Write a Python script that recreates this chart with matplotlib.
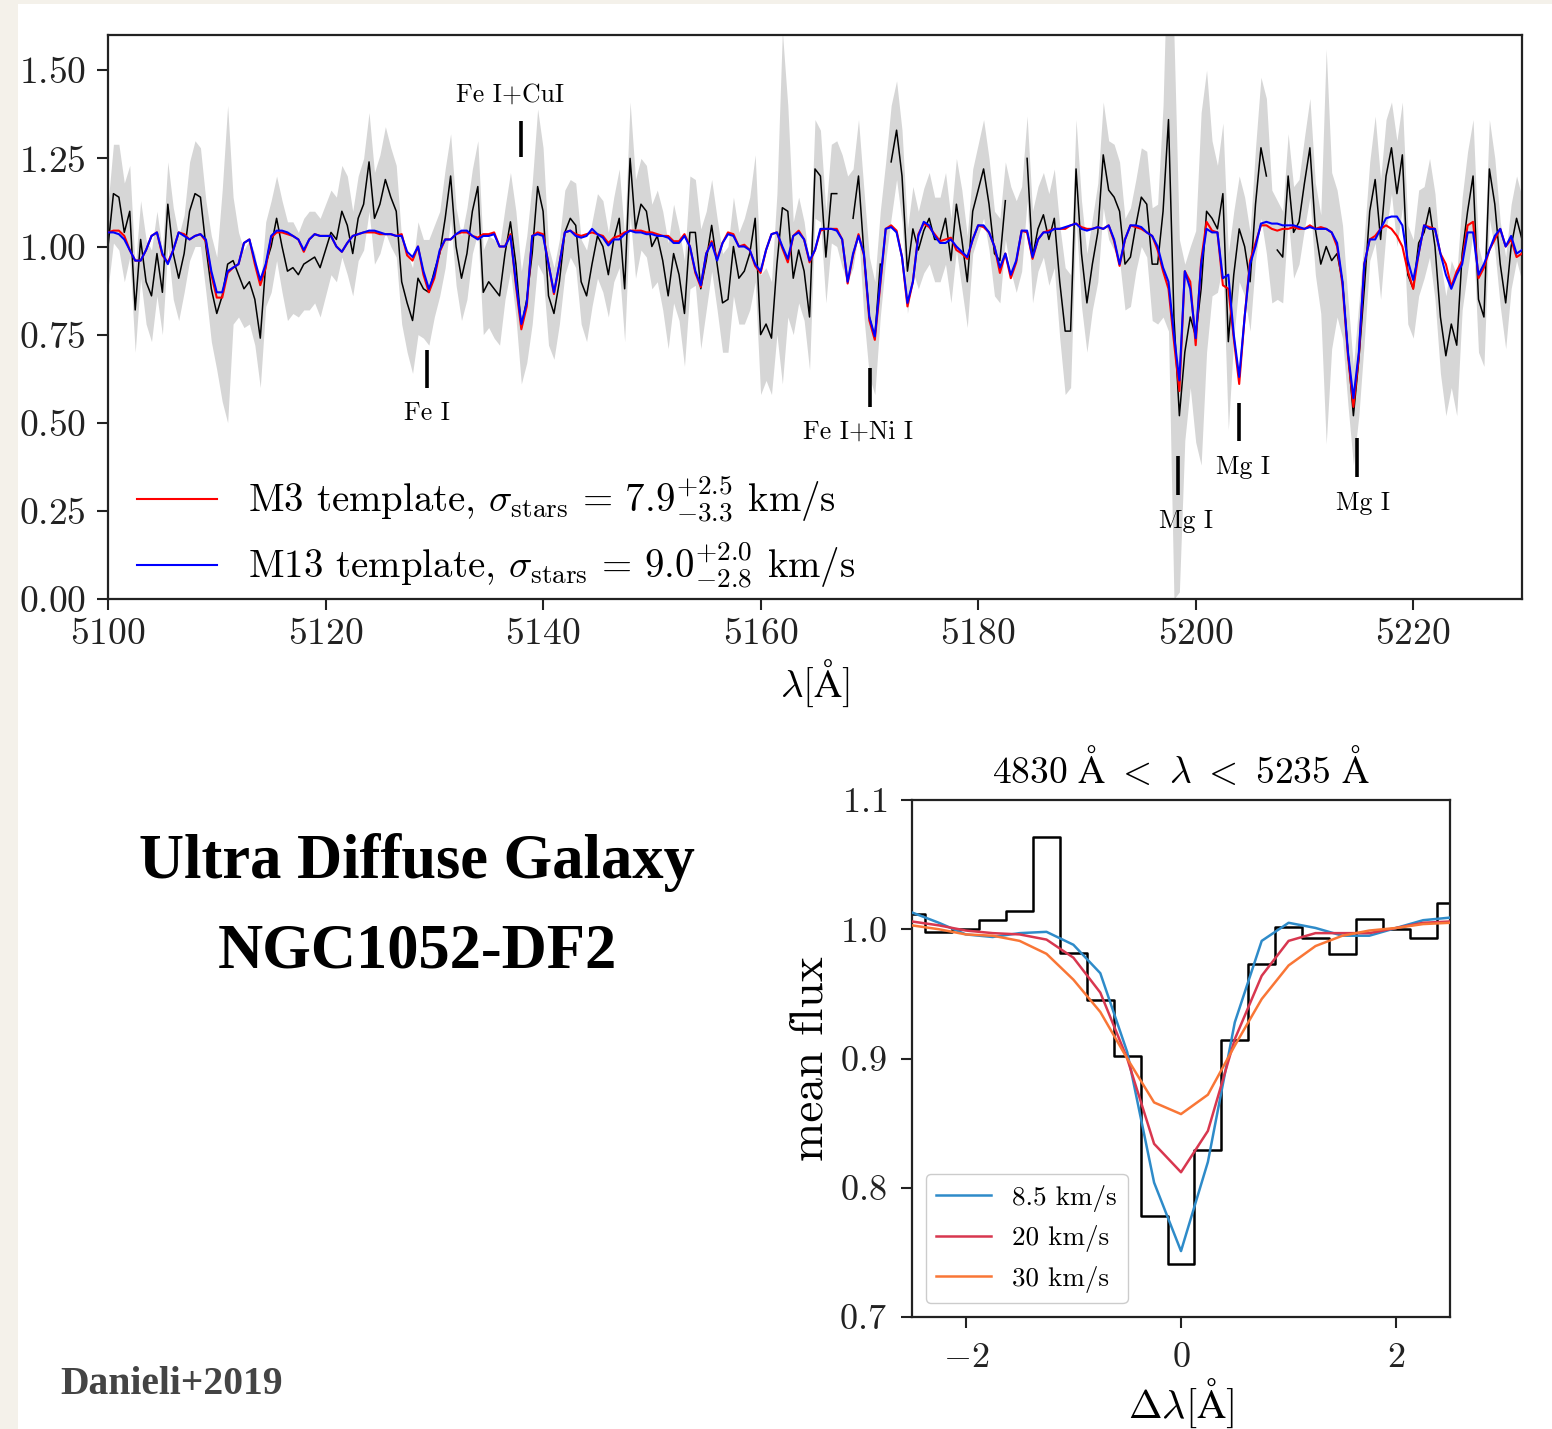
import numpy as np
import matplotlib
matplotlib.use("Agg")
import matplotlib.pyplot as plt
from matplotlib.patches import Rectangle
from matplotlib.ticker import FuncFormatter

plt.rcParams["font.family"] = "serif"
plt.rcParams["font.serif"] = ["cmr10"]
plt.rcParams["mathtext.fontset"] = "cm"
plt.rcParams["axes.unicode_minus"] = False

BEIGE = "#f4f1ea"
GRAYBAND = "#d6d6d6"

# --- stacked spectrum, 0.5 A pixels from 5100 to 5230 A ---
WAVE_START, WAVE_STEP = 5100.0, 0.5

flux = [
    1.00, 1.15, 1.14, 1.04, 1.10, 0.82, 1.02, 0.90, 0.86, 0.98,
    0.87, 1.12, 0.98, 0.91, 0.98, 1.10, 1.15, 1.14, 1.00, 0.88,
    0.81, 0.86, 0.95, 0.96, 0.92, 0.88, 0.90, 0.85, 0.74, 0.95,
    1.00, 1.08, 1.00, 0.93, 0.94, 0.92, 0.95, 0.96, 0.97, 0.94,
    0.99, 1.04, 1.02, 1.10, 1.06, 0.98, 1.08, 1.12, 1.24, 1.08,
    1.12, 1.19, 1.14, 1.10, 0.90, 0.84, 0.79, 0.91, 0.88, 0.87,
    0.93, 0.98, 1.08, 1.20, 1.00, 0.91, 0.98, 1.10, 1.17, 0.87,
    0.90, 0.88, 0.86, 0.98, 1.07, 0.95, 0.77, 0.85, 0.98, 1.17,
    1.10, 0.86, 0.81, 0.90, 1.04, 1.08, 1.06, 0.90, 0.86, 0.95,
    1.03, 1.00, 0.92, 1.02, 1.08, 0.88, 1.25, 1.05, 1.12, 1.10,
    1.00, 1.03, 0.96, 0.86, 0.98, 0.92, 0.81, 1.04, 1.04, 0.88,
    0.96, 1.06, 0.95, 0.84, 0.85, 1.00, 0.91, 0.93, 0.98, 1.08,
    0.75, 0.78, 0.74, 0.95, 1.11, 1.10, 0.91, 0.99, 0.93, 0.80,
    1.22, 1.20, 0.97, 1.15, 1.15, 1.10, 1.05, 1.08, 1.20, 0.98,
    0.80, 0.74, 0.95, 1.10, 1.24, 1.33, 1.20, 0.93, 1.05, 0.99,
    1.045, 1.08, 1.02, 1.02, 1.08, 0.96, 1.12, 1.02, 0.90, 1.10,
    1.16, 1.22, 1.12, 0.98, 0.96, 1.13, 1.05, 1.00, 1.05, 1.25,
    0.97, 1.05, 1.09, 1.02, 1.08, 0.90, 0.76, 0.76, 1.22, 0.98,
    0.84, 0.95, 1.04, 1.26, 1.16, 1.14, 1.10, 0.95, 0.97, 1.06,
    1.14, 1.12, 0.95, 0.95, 1.10, 1.36, 0.80, 0.52, 0.70, 0.80,
    0.745, 0.88, 1.10, 1.08, 1.05, 1.15, 0.73, 0.92, 1.05, 1.00,
    0.90, 1.12, 1.28, 1.20, 1.00, 0.99, 0.97, 1.20, 1.04, 1.07,
    1.18, 1.28, 1.05, 0.95, 1.00, 0.96, 0.98, 0.90, 0.70, 0.52,
    0.68, 0.88, 1.10, 1.19, 1.02, 1.20, 1.28, 1.15, 1.26, 0.92,
    0.88, 1.01, 1.04, 1.11, 1.00, 0.80, 0.69, 0.78, 0.72, 0.98,
    1.10, 1.20, 0.85, 0.80, 1.22, 1.12, 0.95, 0.84, 1.00, 1.08,
    1.02,
]

flux_err = [
    0.12, 0.14, 0.15, 0.14, 0.13, 0.12, 0.11, 0.12, 0.13, 0.12,
    0.12, 0.12, 0.13, 0.12, 0.11, 0.14, 0.15, 0.14, 0.13, 0.15,
    0.16, 0.30, 0.45, 0.18, 0.12, 0.11, 0.12, 0.13, 0.14, 0.12,
    0.13, 0.12, 0.13, 0.14, 0.13, 0.12, 0.13, 0.14, 0.13, 0.14,
    0.13, 0.12, 0.12, 0.13, 0.14, 0.12, 0.12, 0.13, 0.14, 0.13,
    0.14, 0.15, 0.14, 0.13, 0.12, 0.14, 0.15, 0.16, 0.14, 0.15,
    0.13, 0.12, 0.14, 0.12, 0.11, 0.12, 0.13, 0.12, 0.13, 0.12,
    0.13, 0.14, 0.14, 0.13, 0.14, 0.15, 0.16, 0.18, 0.20, 0.22,
    0.18, 0.14, 0.13, 0.12, 0.12, 0.11, 0.12, 0.12, 0.13, 0.12,
    0.12, 0.13, 0.12, 0.12, 0.14, 0.15, 0.16, 0.14, 0.13, 0.13,
    0.12, 0.13, 0.14, 0.15, 0.14, 0.13, 0.15, 0.16, 0.15, 0.17,
    0.14, 0.13, 0.13, 0.14, 0.15, 0.14, 0.13, 0.15, 0.16, 0.18,
    0.17, 0.16, 0.16, 0.20, 0.50, 0.30, 0.16, 0.15, 0.14, 0.15,
    0.14, 0.13, 0.13, 0.14, 0.15, 0.16, 0.15, 0.14, 0.16, 0.18,
    0.17, 0.16, 0.15, 0.14, 0.16, 0.14, 0.13, 0.12, 0.12, 0.11,
    0.12, 0.13, 0.12, 0.12, 0.13, 0.12, 0.13, 0.14, 0.13, 0.12,
    0.13, 0.14, 0.13, 0.12, 0.12, 0.11, 0.12, 0.13, 0.12, 0.12,
    0.13, 0.12, 0.12, 0.13, 0.14, 0.16, 0.18, 0.16, 0.14, 0.15,
    0.14, 0.13, 0.14, 0.15, 0.14, 0.15, 0.14, 0.13, 0.14, 0.13,
    0.14, 0.15, 0.16, 0.17, 0.30, 0.60, 0.80, 0.50, 0.25, 0.20,
    0.30, 0.50, 0.40, 0.22, 0.18, 0.20, 0.25, 0.18, 0.15, 0.14,
    0.14, 0.16, 0.20, 0.22, 0.16, 0.14, 0.13, 0.12, 0.13, 0.12,
    0.13, 0.14, 0.13, 0.14, 0.56, 0.25, 0.18, 0.16, 0.15, 0.14,
    0.16, 0.15, 0.14, 0.18, 0.17, 0.16, 0.13, 0.15, 0.15, 0.14,
    0.14, 0.15, 0.13, 0.14, 0.15, 0.16, 0.17, 0.18, 0.20, 0.16,
    0.17, 0.16, 0.15, 0.14, 0.14, 0.13, 0.12, 0.13, 0.12, 0.12,
    0.12,
]

# pixels rejected from the plotted spectrum (kept in the error band)
masked_wave = [5167.5, 5168.0, 5171.5, 5183.0, 5183.5, 5184.0, 5207.0]

m3_model = [
    1.04, 1.045, 1.045, 1.03, 0.99, 0.96, 0.96, 0.99, 1.03, 1.04,
    0.975, 0.955, 0.99, 1.04, 1.035, 1.02, 1.03, 1.035, 1.015, 0.92,
    0.855, 0.855, 0.925, 0.94, 0.95, 1.01, 1.02, 0.95, 0.89, 0.94,
    1.025, 1.04, 1.04, 1.035, 1.03, 1.02, 0.985, 1.02, 1.035, 1.03,
    1.03, 1.03, 1.00, 0.985, 1.01, 1.03, 1.035, 1.04, 1.04, 1.04,
    1.035, 1.035, 1.035, 1.03, 1.035, 0.975, 0.96, 1.00, 0.92, 0.87,
    0.91, 0.985, 1.02, 1.02, 1.035, 1.04, 1.04, 1.03, 1.025, 1.035,
    1.035, 1.04, 1.00, 1.00, 1.035, 0.89, 0.765, 0.83, 1.03, 1.04,
    1.035, 0.95, 0.865, 0.95, 1.04, 1.045, 1.035, 1.03, 1.035, 1.04,
    1.035, 1.03, 1.01, 1.025, 1.03, 1.04, 1.045, 1.045, 1.045, 1.04,
    1.04, 1.035, 1.03, 1.03, 1.015, 1.015, 1.035, 1.00, 0.925, 0.885,
    0.98, 1.015, 0.965, 1.01, 1.04, 1.035, 1.00, 1.005, 0.99, 0.945,
    0.925, 0.99, 1.035, 1.04, 0.995, 0.955, 1.03, 1.045, 1.02, 0.955,
    0.99, 1.045, 1.05, 1.05, 1.05, 1.02, 0.895, 0.975, 1.035, 0.975,
    0.79, 0.735, 0.89, 1.05, 1.06, 1.045, 0.97, 0.83, 0.90, 1.035,
    1.065, 1.055, 1.035, 1.015, 1.02, 1.025, 0.99, 0.98, 0.965, 1.02,
    1.06, 1.055, 1.04, 1.00, 0.925, 0.98, 0.91, 0.955, 1.045, 1.04,
    0.965, 1.02, 1.04, 1.045, 1.05, 1.05, 1.05, 1.06, 1.065, 1.055,
    1.05, 1.05, 1.055, 1.05, 1.06, 1.015, 0.945, 1.02, 1.06, 1.055,
    1.05, 1.04, 1.03, 0.99, 0.93, 0.88, 0.73, 0.59, 0.93, 0.90,
    0.72, 0.96, 1.07, 1.045, 1.04, 0.89, 0.88, 0.74, 0.61, 0.80,
    0.96, 1.01, 1.06, 1.06, 1.05, 1.045, 1.05, 1.05, 1.055, 1.05,
    1.05, 1.06, 1.05, 1.055, 1.05, 1.04, 1.00, 0.89, 0.69, 0.545,
    0.69, 0.95, 1.02, 1.03, 1.05, 1.06, 1.05, 1.03, 1.00, 0.93,
    0.88, 0.98, 1.06, 1.055, 1.05, 0.98, 0.95, 0.886, 0.93, 0.96,
    1.06, 1.07, 0.91, 0.94, 0.99, 1.02, 1.05, 1.00, 1.02, 0.97,
    0.98,
]

m13_model = [
    1.04, 1.04, 1.035, 1.02, 0.99, 0.96, 0.96, 0.99, 1.03, 1.04,
    0.98, 0.95, 0.99, 1.04, 1.03, 1.02, 1.03, 1.035, 1.02, 0.93,
    0.87, 0.87, 0.93, 0.94, 0.95, 1.01, 1.02, 0.96, 0.905, 0.95,
    1.03, 1.045, 1.045, 1.04, 1.03, 1.02, 0.99, 1.02, 1.035, 1.03,
    1.03, 1.03, 1.00, 0.985, 1.01, 1.03, 1.035, 1.04, 1.045, 1.045,
    1.04, 1.035, 1.035, 1.03, 1.03, 0.985, 0.97, 1.00, 0.93, 0.88,
    0.92, 0.99, 1.02, 1.02, 1.035, 1.045, 1.045, 1.03, 1.02, 1.03,
    1.03, 1.035, 1.00, 1.00, 1.03, 0.90, 0.78, 0.84, 1.03, 1.035,
    1.03, 0.95, 0.87, 0.95, 1.04, 1.045, 1.03, 1.025, 1.03, 1.05,
    1.035, 1.025, 1.003, 1.02, 1.02, 1.035, 1.045, 1.04, 1.04, 1.035,
    1.035, 1.03, 1.03, 1.025, 1.01, 1.01, 1.03, 1.00, 0.93, 0.89,
    0.98, 1.01, 0.96, 1.01, 1.035, 1.03, 1.00, 1.00, 0.99, 0.95,
    0.93, 0.99, 1.035, 1.04, 1.00, 0.965, 1.03, 1.04, 1.02, 0.96,
    0.99, 1.05, 1.05, 1.05, 1.045, 1.02, 0.90, 0.98, 1.03, 0.98,
    0.80, 0.745, 0.90, 1.05, 1.055, 1.04, 0.97, 0.84, 0.90, 1.03,
    1.07, 1.06, 1.03, 1.01, 1.01, 1.02, 1.00, 0.985, 0.97, 1.02,
    1.06, 1.06, 1.04, 1.00, 0.94, 0.98, 0.92, 0.96, 1.045, 1.045,
    0.97, 1.02, 1.04, 1.04, 1.05, 1.05, 1.055, 1.06, 1.065, 1.05,
    1.045, 1.05, 1.055, 1.05, 1.06, 1.02, 0.95, 1.02, 1.06, 1.06,
    1.055, 1.04, 1.03, 1.00, 0.94, 0.90, 0.75, 0.62, 0.93, 0.88,
    0.74, 0.95, 1.05, 1.04, 1.04, 0.91, 0.92, 0.75, 0.63, 0.80,
    0.95, 1.00, 1.065, 1.07, 1.065, 1.065, 1.06, 1.06, 1.06, 1.055,
    1.05, 1.055, 1.05, 1.05, 1.05, 1.04, 1.01, 0.90, 0.70, 0.57,
    0.70, 0.95, 1.02, 1.02, 1.05, 1.08, 1.085, 1.085, 1.06, 0.96,
    0.905, 0.98, 1.06, 1.05, 1.05, 0.98, 0.92, 0.88, 0.92, 0.95,
    1.04, 1.04, 0.92, 0.95, 0.99, 1.03, 1.05, 1.00, 1.03, 0.98,
    0.99,
]

m3_label = r"M3 template, $\sigma_{\rm stars}\,=\,7.9^{+2.5}_{-3.3}$ km/s"
m13_label = r"M13 template, $\sigma_{\rm stars}\,=\,9.0^{+2.0}_{-2.8}$ km/s"

line_names = ["Fe I+CuI", "Fe I", "Fe I+Ni I", "Mg I", "Mg I", "Mg I"]
line_waves = [5138.0, 5129.35, 5170.1, 5198.4, 5204.0, 5214.8]

# --- stacked absorption line profile ---
dlam = [-2.5, -2.25, -2.0, -1.75, -1.5, -1.25, -1.0, -0.75, -0.5, -0.25, 0.0,
        0.25, 0.5, 0.75, 1.0, 1.25, 1.5, 1.75, 2.0, 2.25, 2.5]
mean_flux = [1.012, 0.998, 1.000, 1.007, 1.014, 1.071, 0.982, 0.945, 0.902,
             0.778, 0.741, 0.829, 0.914, 0.973, 1.002, 0.993, 0.981, 1.008,
             1.000, 0.993, 1.020]
prof_8p5 = [1.013, 1.005, 0.996, 0.994, 0.997, 0.998, 0.988, 0.966, 0.905,
            0.804, 0.751, 0.820, 0.928, 0.991, 1.005, 1.001, 0.995, 0.995,
            1.001, 1.007, 1.009]
prof_20 = [1.006, 1.003, 0.999, 0.997, 0.996, 0.992, 0.978, 0.951, 0.900,
           0.834, 0.812, 0.844, 0.915, 0.964, 0.991, 0.997, 0.997, 0.997,
           1.001, 1.005, 1.006]
prof_30 = [1.003, 1.000, 0.996, 0.995, 0.991, 0.981, 0.961, 0.936, 0.900,
           0.866, 0.857, 0.872, 0.910, 0.946, 0.972, 0.987, 0.995, 0.999,
           1.001, 1.004, 1.005]
prof_labels = ["8.5 km/s", "20 km/s", "30 km/s"]
prof_colors = ["#2e8bc9", "#d8374f", "#f97636"]

# ---------------------------------------------------------------------------
W, H = 1552, 1429
fig = plt.figure(figsize=(W / 100, H / 100), dpi=100)
fig.patches.append(Rectangle((0, 0), 18 / W, 1, transform=fig.transFigure,
                             facecolor=BEIGE, edgecolor="none", zorder=0))
fig.patches.append(Rectangle((0, 1 - 4 / H), 1, 4 / H, transform=fig.transFigure,
                             facecolor=BEIGE, edgecolor="none", zorder=0))


def math_ticks(fmt):
    # tick labels go through mathtext so the digits and minus sign are Computer Modern
    return FuncFormatter(lambda v, pos: "$" + format(v, fmt) + "$")


def style_axes(ax, size, xpad, ypad):
    for sp in ax.spines.values():
        sp.set_linewidth(1.6)
        sp.set_color("#222222")
    ax.tick_params(direction="out", length=8, width=1.5, labelsize=size,
                   color="#222222", labelcolor="#222222")
    ax.tick_params(axis="x", pad=xpad)
    ax.tick_params(axis="y", pad=ypad)


# --- top panel: spectrum with template fits ---
wave = WAVE_START + WAVE_STEP * np.arange(len(flux))
f = np.array(flux)
e = np.array(flux_err)
f_plot = f.copy()
f_plot[np.isin(wave, masked_wave)] = np.nan

ax1 = fig.add_axes([108 / W, 1 - 599 / H, (1522 - 108) / W, (599 - 35) / H])
ax1.fill_between(wave, f - e, f + e, color=GRAYBAND, linewidth=0, zorder=1)
ax1.plot(wave, f_plot, color="black", lw=1.1, zorder=2)
ax1.plot(wave, m3_model, color="red", lw=1.5, zorder=3, label=m3_label)
ax1.plot(wave, m13_model, color="blue", lw=1.5, zorder=4, label=m13_label)
ax1.set_xlim(5100, 5230)
ax1.set_ylim(0, 1.6)
ax1.set_xticks(np.arange(5100, 5221, 20))
ax1.set_yticks(np.arange(0, 1.51, 0.25))
ax1.xaxis.set_major_formatter(math_ticks(".0f"))
ax1.yaxis.set_major_formatter(math_ticks(".2f"))
style_axes(ax1, 27, xpad=5.5, ypad=8)
ax1.set_xlabel(r"$\lambda[\mathrm{\AA}]$", fontsize=28, labelpad=5)

# marker tick (y0, y1) and label position for each identified line
line_marks = [((1.253, 1.355), (5137.0, 1.43)),
              ((0.600, 0.707), (5129.35, 0.528)),
              ((0.545, 0.656), (5169.0, 0.474)),
              ((0.295, 0.406), (5199.1, 0.222)),
              ((0.449, 0.557), (5204.4, 0.375)),
              ((0.347, 0.457), (5215.4, 0.273))]
for name, lw_, ((y0, y1), (tx, ty)) in zip(line_names, line_waves, line_marks):
    ax1.plot([lw_, lw_], [y0, y1], color="black", lw=2.6, solid_capstyle="butt", zorder=5)
    ax1.text(tx, ty, name, fontsize=18.5, ha="center", va="center", zorder=6)

ax1.legend(loc="lower left", bbox_to_anchor=(0.004, -0.028), frameon=False,
           fontsize=28, handlelength=2.05, borderaxespad=0.2,
           labelspacing=0.4, handletextpad=0.8)

# --- bottom right: mean line profile vs broadened templates ---
ax2 = fig.add_axes([912 / W, 1 - 1317 / H, (1450 - 912) / W, (1317 - 800) / H])
ax2.step(dlam, mean_flux, where="mid", color="black", lw=1.8, zorder=2)
for prof, lab, col in zip([prof_8p5, prof_20, prof_30], prof_labels, prof_colors):
    ax2.plot(dlam, prof, color=col, lw=1.8, label=lab, zorder=3)
ax2.set_xlim(-2.5, 2.5)
ax2.set_ylim(0.7, 1.1)
ax2.set_xticks([-2, 0, 2])
ax2.set_yticks([0.7, 0.8, 0.9, 1.0, 1.1])
ax2.xaxis.set_major_formatter(math_ticks(".0f"))
ax2.yaxis.set_major_formatter(math_ticks(".1f"))
style_axes(ax2, 26, xpad=10, ypad=10)
ax2.set_title(r"$4830\ \mathrm{\AA}\ <\ \lambda\ <\ 5235\ \mathrm{\AA}$", fontsize=27, pad=12)
ax2.set_xlabel(r"$\Delta\lambda[\mathrm{\AA}]$", fontsize=29, labelpad=2)
ax2.set_ylabel("mean flux", fontsize=34, labelpad=6)
ax2.legend(loc="lower left", fontsize=19.5, framealpha=1, edgecolor="#cccccc",
           fancybox=True, handlelength=2.0)

# --- slide text ---
fig.text(417 / W, 1 - 862 / H, "Ultra Diffuse Galaxy", fontsize=45,
         family="Liberation Serif", weight="bold", ha="center", va="center")
fig.text(417 / W, 1 - 953 / H, "NGC1052-DF2", fontsize=45,
         family="Liberation Serif", weight="bold", ha="center", va="center")
fig.text(60 / W, 1 - 1384 / H, "Danieli+2019", fontsize=28.5, color="#444444",
         family="Liberation Serif", weight="bold", ha="left", va="center")

fig.savefig("out.png", dpi=100, facecolor="white")
